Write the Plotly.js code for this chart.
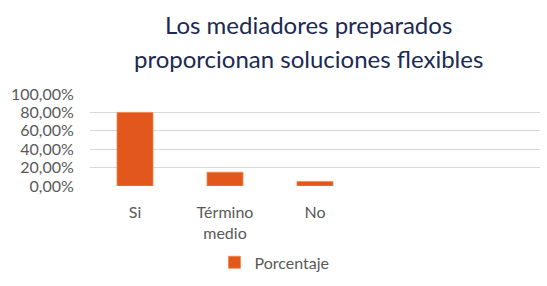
<!DOCTYPE html>
<html>
<head>
<meta charset="utf-8">
<script src="https://cdn.plot.ly/plotly-3.0.1.min.js"></script>
<style>html,body{margin:0;padding:0;background:#fff;}#chart{width:547px;height:286px;}</style>
</head>
<body>
<div id="chart"></div>
<script>
var categories = ["Si", "Término<br>medio", "No"];
var seriesName = "Porcentaje";
var values = [0.80, 0.15, 0.05];
var titleLines = ["Los mediadores preparados", "proporcionan soluciones flexibles"];
var yTicks = [0, 0.2, 0.4, 0.6, 0.8, 1.0];

var positions = categories.map(function(_, i){ return i; });

var trace = {
  type: 'bar',
  x: positions,
  y: values,
  name: seriesName,
  marker: {color: '#E2571B', line: {color: '#F08A4B', width: 0.8}},
  showlegend: true,
  hoverinfo: 'none'
};

var font = "Lato, 'Open Sans', sans-serif";

var layout = {
  width: 547, height: 286,
  margin: {l: 90, r: 7, t: 94, b: 97, pad: 0},
  paper_bgcolor: '#ffffff', plot_bgcolor: '#ffffff',
  separators: ',.',
  bargap: 0.6,
  font: {family: font, color: '#595959', size: 16},
  xaxis: {
    range: [-0.5, 4.5],
    tickvals: positions,
    ticktext: categories,
    showgrid: false, zeroline: false, showline: false,
    ticks: 'outside', ticklen: 12, tickcolor: 'rgba(0,0,0,0)',
    tickfont: {family: font, size: 16, color: '#595959'},
    fixedrange: true
  },
  yaxis: {
    range: [0, 1],
    tickvals: yTicks,
    tickformat: '.2%',
    showgrid: true, gridcolor: '#d9d9d9', gridwidth: 1,
    zeroline: false, showline: false,
    ticks: 'outside', ticklen: 12, tickcolor: 'rgba(0,0,0,0)',
    tickfont: {family: font, size: 16, color: '#595959'},
    fixedrange: true
  },
  legend: {
    orientation: 'h',
    x: 0.41, xanchor: 'center',
    y: -0.83, yanchor: 'middle',
    font: {family: font, size: 16, color: '#595959'},
    itemwidth: 30
  },
  annotations: [
    {text: titleLines[0], xref: 'paper', yref: 'paper', x: (308-90)/450, y: (189-22)/95,
     xanchor: 'center', yanchor: 'middle', showarrow: false,
     font: {family: font, size: 24, color: '#1B2A52'}},
    {text: titleLines[1], xref: 'paper', yref: 'paper', x: (308-90)/450, y: (189-57)/95,
     xanchor: 'center', yanchor: 'middle', showarrow: false,
     font: {family: font, size: 24, color: '#1B2A52'}}
  ]
};

Plotly.newPlot('chart', [trace], layout, {displayModeBar: false, staticPlot: true});
</script>
</body>
</html>
